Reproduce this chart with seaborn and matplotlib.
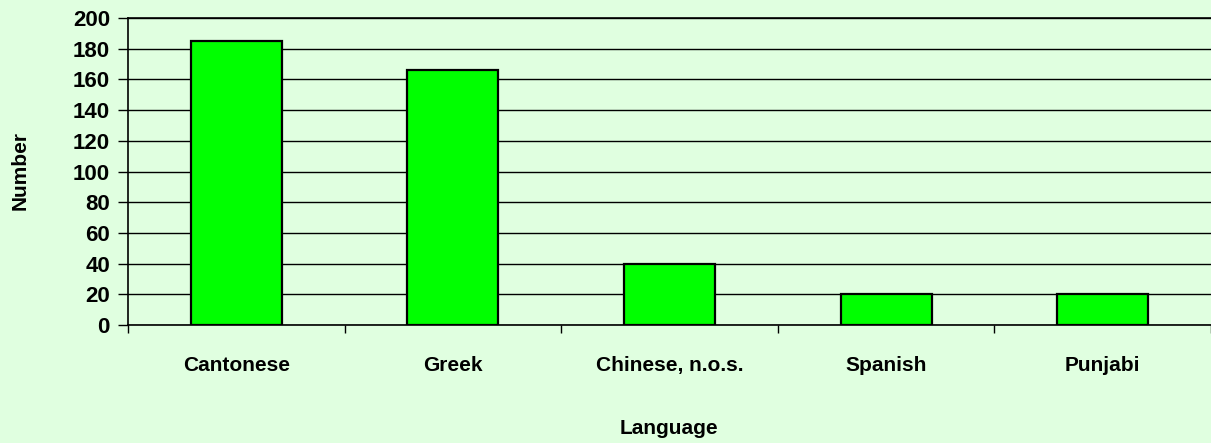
"""
plot.py
-------
Bar chart of speakers by language, styled like an old spreadsheet chart.
"""

import matplotlib
matplotlib.use("Agg")
import matplotlib.pyplot as plt
import pandas as pd
import seaborn as sns

# data
languages = ["Cantonese", "Greek", "Chinese, n.o.s.", "Spanish", "Punjabi"]
counts = [185, 166, 40, 20, 20]
y_ticks = [0, 20, 40, 60, 80, 100, 120, 140, 160, 180, 200]

BG = "#E0FFE0"
BAR = "#00FF00"

sns.set_theme(style="white")
plt.rcParams["font.family"] = ["Liberation Sans", "DejaVu Sans"]
plt.rcParams["font.weight"] = "bold"
plt.rcParams["text.color"] = "black"
plt.rcParams["xtick.color"] = "black"
plt.rcParams["ytick.color"] = "black"

df = pd.DataFrame({"Language": languages, "Number": counts})

fig = plt.figure(figsize=(12.11, 4.43), dpi=100, facecolor=BG)
ax = fig.add_axes([128 / 1211, 1 - 325 / 443, 1 - 128 / 1211, (325 - 18) / 443])
ax.set_facecolor(BG)

sns.barplot(data=df, x="Language", y="Number", color=BAR, width=0.42,
            edgecolor="black", linewidth=1.6, saturation=1, ax=ax, zorder=3)

ax.set_ylim(0, 200)
ax.set_xlim(-0.5, len(languages) - 0.5)
ax.set_yticks(y_ticks)
ax.yaxis.grid(True, color="black", linewidth=1, zorder=0)
ax.set_axisbelow(True)

# tick marks between categories, labels centered under the bars
ax.set_xticks([i - 0.5 for i in range(len(languages) + 1)], minor=True)
ax.tick_params(axis="x", which="major", length=0, pad=22, labelsize=15,
               labelcolor="black")
ax.tick_params(axis="x", which="minor", length=6, width=1, color="black",
               direction="out", bottom=True)
ax.tick_params(axis="y", length=7, width=1, color="black", direction="out",
               left=True, labelsize=16, pad=6, labelcolor="black")
for lab in ax.get_xticklabels() + ax.get_yticklabels():
    lab.set_fontweight("bold")

for side in ["left", "bottom", "top"]:
    ax.spines[side].set_color("black")
    ax.spines[side].set_linewidth(1.2)
ax.spines["right"].set_visible(False)

ax.set_xlabel("")
ax.set_ylabel("")
fig.text(669 / 1211, 1 - 429 / 443, "Language", ha="center", va="center",
         fontsize=15, fontweight="bold", color="black")
fig.text(20 / 1211, 1 - 171 / 443, "Number", ha="center", va="center",
         rotation=90, fontsize=15, fontweight="bold", color="black")

fig.savefig("out.png", dpi=100, facecolor=BG)
